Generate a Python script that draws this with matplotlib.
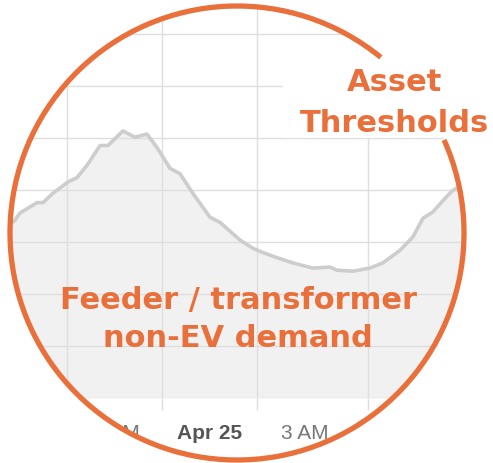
import numpy as np
import matplotlib
matplotlib.use("Agg")
import matplotlib.pyplot as plt
from matplotlib.path import Path
from matplotlib.patches import PathPatch, Arc, Rectangle

# demand curve (hours from Apr 25 00:00, kW)
hours = [-6.32, -6.16, -6.0, -5.46, -5.27, -4.96, -4.48, -4.2, -3.88, -3.47,
         -3.22, -2.75, -2.37, -1.99, -1.67, -1.26, -0.95, -0.54, 0.0, 0.32,
         0.95, 1.36, 1.67, 2.12, 2.62, 3.25, 3.79, 4.01, 4.52, 5.05,
         5.46, 6.0, 6.41, 6.73, 7.04, 7.36, 7.64, 7.89]
demand = [167, 171, 178, 188, 188, 197, 208, 212, 224, 243,
          243, 257, 251, 254, 241, 221, 216, 197, 174, 169,
          152, 144, 140, 135, 130, 125, 126, 123, 122, 125,
          130, 142, 155, 173, 179, 190, 199, 204]

tick_hours = [-3, 0, 3]
tick_labels = ["9 PM", "Apr 25", "3 AM"]
grid_hours = [-4.5, -1.5, 1.5, 5.0]
grid_levels = [0, 50, 100, 150, 200, 250, 300, 350]

orange = "#E9703B"
W, H = 493, 463

fig = plt.figure(figsize=(W / 100, H / 100), dpi=100, facecolor="white")

# chart
ax = fig.add_axes([0, 65 / H, 1, 398 / H])
ax.fill_between(hours, demand, 0, color="#f1f1f1", lw=0)
ax.plot(hours, demand, color="#cdcdcd", lw=2.6, solid_joinstyle="round")
ax.set_xlim(-6.63, 8.94)
ax.set_ylim(0, 383)
ax.set_yticks(grid_levels)
ax.set_xticks(tick_hours, tick_labels)
ax.set_xticks(grid_hours, minor=True)
ax.grid(axis="y", color="#dedede", lw=1)
ax.grid(axis="x", which="minor", color="#dedede", lw=1)
ax.tick_params(axis="y", length=0, labelleft=False)
ax.tick_params(axis="x", which="major", length=0, pad=18.5,
               labelsize=15, labelcolor="#777777")
ax.tick_params(axis="x", which="minor", length=8.6, width=1, color="#dedede")
for lab in ax.get_xticklabels():
    lab.set_family("Liberation Sans")
    if lab.get_text() == "Apr 25":
        lab.set_fontweight("bold")
        lab.set_color("#555555")
for s in ax.spines.values():
    s.set_visible(False)

# overlay in pixel coords: circle mask, ring, labels
ov = fig.add_axes([0, 0, 1, 1])
ov.set_xlim(0, W)
ov.set_ylim(H, 0)
ov.axis("off")
ov.patch.set_visible(False)

cx, cy, r = 237, 233, 227
t = np.linspace(0, 2 * np.pi, 400)
ring = np.column_stack([cx + r * np.cos(t), cy + r * np.sin(t)])[::-1]
outer = np.array([(-20, -20), (520, -20), (520, 490), (-20, 490), (-20, -20)])
verts = np.vstack([outer, ring])
codes = ([Path.MOVETO] + [Path.LINETO] * 3 + [Path.CLOSEPOLY]
         + [Path.MOVETO] + [Path.LINETO] * (len(ring) - 1))
ov.add_patch(PathPatch(Path(verts, codes), fc="white", ec="none", zorder=1))
ov.add_patch(Rectangle((283, 45), 230, 93, fc="white", ec="none", zorder=2))
ov.add_patch(Arc((cx, cy), 2 * r, 2 * r, theta1=-24.2, theta2=309.3,
                 color=orange, lw=3.8, zorder=3))

tkw = dict(ha="center", va="baseline", fontsize=22, fontweight="bold",
           color=orange, family="DejaVu Sans", zorder=4)
ov.text(238, 309, "Feeder / transformer", **tkw)
ov.text(238, 347, "non-EV demand", **tkw)
ov.text(395, 91, "Asset", **tkw)
ov.text(394, 132, "Thresholds", **tkw)

plt.savefig("out.png", dpi=100, facecolor="white")
plt.close()
